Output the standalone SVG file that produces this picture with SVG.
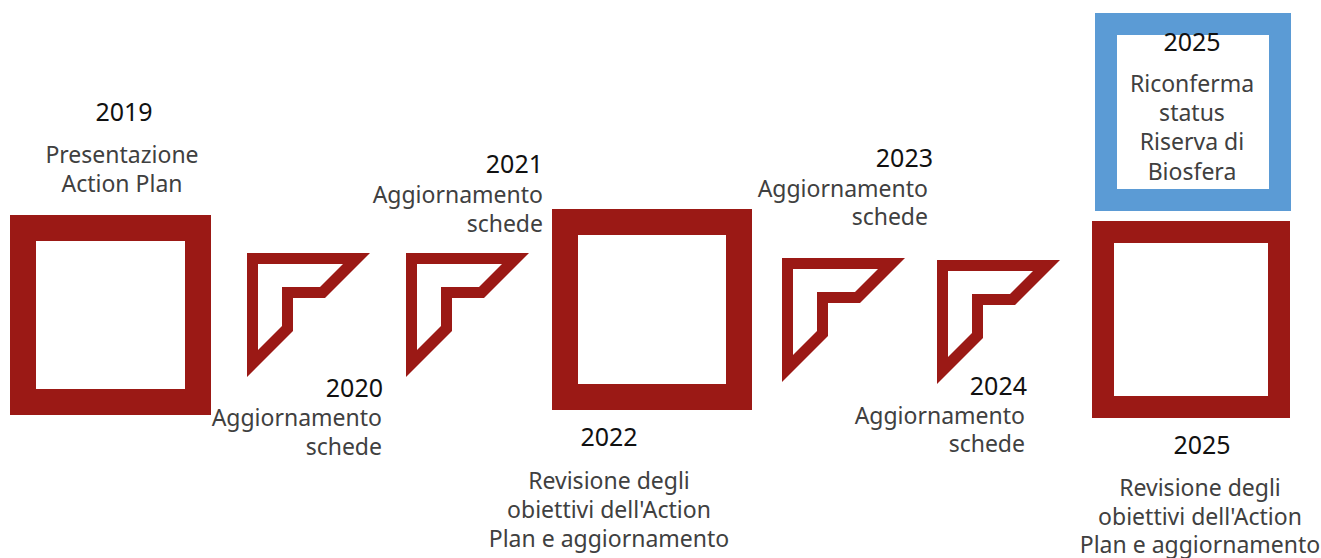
<svg xmlns="http://www.w3.org/2000/svg" width="1321" height="558" viewBox="0 0 1321 558">
  <style>
    .box { fill: #ffffff; stroke: #9b1915; }
    .blue { fill: #ffffff; stroke: #5b9bd5; }
    .chev { fill: #9b1915; fill-rule: evenodd; }
    text { font-family: "Noto Sans", "Open Sans", sans-serif; }
    .yr { font-size: 25px; fill: #111111; }
    .tx { font-size: 23px; fill: #404040; }
    .m { text-anchor: middle; }
    .e { text-anchor: end; }
  </style>
  <defs>
    <path id="chevron" class="chev" d="M0,0 H123 L78,45 H46 V78 L0,124 Z M11,11 H96 L73,34 H35 V73 L11,97 Z"/>
  </defs>
  <rect width="1321" height="558" fill="#ffffff"/>

  <g id="node-2019">
    <rect class="box" x="23" y="228" width="175" height="174" stroke-width="26"/>
    <text class="yr m" x="124" y="121">2019</text>
    <text class="tx m" x="122" y="163">Presentazione</text>
    <text class="tx m" x="122" y="192">Action Plan</text>
  </g>

  <g id="node-2020">
    <use href="#chevron" x="247" y="253"/>
    <text class="yr e" x="383" y="397">2020</text>
    <text class="tx e" x="382" y="426">Aggiornamento</text>
    <text class="tx e" x="382" y="455">schede</text>
  </g>

  <g id="node-2021">
    <use href="#chevron" x="406" y="253"/>
    <text class="yr e" x="543" y="173">2021</text>
    <text class="tx e" x="543" y="203">Aggiornamento</text>
    <text class="tx e" x="543" y="232">schede</text>
  </g>

  <g id="node-2022">
    <rect class="box" x="565" y="222" width="174" height="175" stroke-width="26"/>
    <text class="yr m" x="609" y="446">2022</text>
    <text class="tx m" x="609" y="489">Revisione degli</text>
    <text class="tx m" x="609" y="518">obiettivi dell'Action</text>
    <text class="tx m" x="609" y="547">Plan e aggiornamento</text>
  </g>

  <g id="node-2023">
    <use href="#chevron" x="782" y="258"/>
    <text class="yr e" x="933" y="167">2023</text>
    <text class="tx e" x="928" y="197">Aggiornamento</text>
    <text class="tx e" x="928" y="225">schede</text>
  </g>

  <g id="node-2024">
    <use href="#chevron" x="937" y="260"/>
    <text class="yr e" x="1027" y="395">2024</text>
    <text class="tx e" x="1025" y="424">Aggiornamento</text>
    <text class="tx e" x="1025" y="452">schede</text>
  </g>

  <g id="node-2025-biosfera">
    <rect class="blue" x="1106" y="24" width="174" height="176" stroke-width="22"/>
    <text class="yr m" x="1192" y="51">2025</text>
    <text class="tx m" x="1192" y="92">Riconferma</text>
    <text class="tx m" x="1192" y="121">status</text>
    <text class="tx m" x="1192" y="150">Riserva di</text>
    <text class="tx m" x="1192" y="180">Biosfera</text>
  </g>

  <g id="node-2025-revisione">
    <rect class="box" x="1103" y="232" width="176" height="175" stroke-width="22"/>
    <text class="yr m" x="1202" y="454">2025</text>
    <text class="tx m" x="1200" y="496">Revisione degli</text>
    <text class="tx m" x="1200" y="525">obiettivi dell'Action</text>
    <text class="tx m" x="1200" y="553">Plan e aggiornamento</text>
  </g>

  <g id="connectors"></g>
</svg>
